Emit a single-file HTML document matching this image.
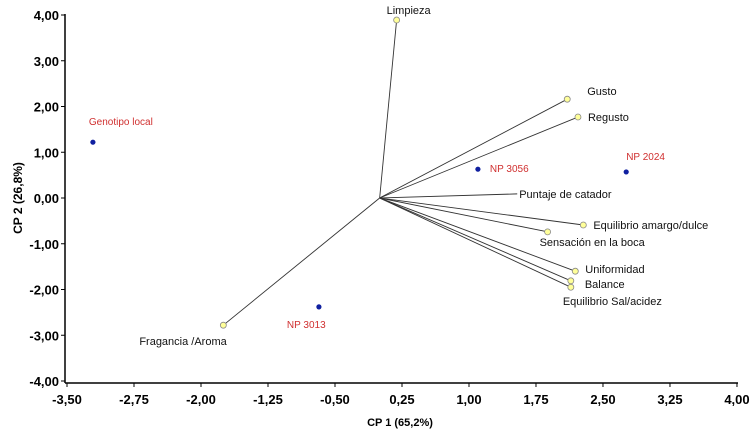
<!DOCTYPE html>
<html><head><meta charset="utf-8"><style>
body{margin:0;background:#fff;}
svg{display:block;font-family:"Liberation Sans",Arial,sans-serif;}
</style></head><body>
<svg id="chart" width="750" height="432"></svg>
<script>
const varNames=["Limpieza","Gusto","Regusto","Puntaje de catador","Equilibrio amargo/dulce","Sensación en la boca","Uniformidad","Balance","Equilibrio Sal/acidez","Fragancia /Aroma"];
const varX=[0.19,2.10,2.22,1.54,2.28,1.88,2.19,2.14,2.14,-1.75];
const varY=[3.89,2.16,1.77,0.09,-0.59,-0.74,-1.60,-1.81,-1.95,-2.78];
const varLabelDx=[-10,20,10,2,10,-8,10,14,-8,-84];
const varLabelDy=[-10,-8,0,0,0,10,-2,3,14,16];
const varMarker=[1,1,1,0,1,1,1,1,1,1];
const obsNames=["Genotipo local","NP 3056","NP 2024","NP 3013"];
const obsX=[-3.21,1.10,2.76,-0.68];
const obsY=[1.22,0.63,0.57,-2.38];
const obsLabelDx=[-4,12,0,-32];
const obsLabelDy=[-21,-1,-16,17];
const xTicks=[-3.5,-2.75,-2,-1.25,-0.5,0.25,1,1.75,2.5,3.25,4];
const yTicks=[4,3,2,1,0,-1,-2,-3,-4];
const fmt=v=>v.toFixed(2).replace('.',',');
const sx=v=>67+(v+3.5)*89.33;
const sy=v=>198-v*45.75;
const NS="http://www.w3.org/2000/svg";
const svg=document.getElementById('chart');
function mk(t,a,txt){const e=document.createElementNS(NS,t);for(const k in a)e.setAttribute(k,a[k]);if(txt!==undefined)e.textContent=txt;svg.appendChild(e);return e;}
let e;
e=mk('line',{x1:65,y1:14,x2:65,y2:383,stroke:'#000','stroke-width':1.5});


e=mk('line',{x1:65,y1:383,x2:738,y2:383,stroke:'#000','stroke-width':1.5});


xTicks.forEach(v=>{const x=sx(v);mk('line',{x1:x,y1:383,x2:x,y2:387,stroke:'#000'});
e=mk('text',{x:x,y:404,'text-anchor':'middle','font-size':13,'font-weight':'bold'},fmt(v));

});
yTicks.forEach(v=>{const y=sy(v);mk('line',{x1:61,y1:y,x2:65,y2:y,stroke:'#000'});
e=mk('text',{x:59,y:y+5,'text-anchor':'end','font-size':13,'font-weight':'bold'},fmt(v));

});
e=mk('text',{x:400,y:426,'text-anchor':'middle','font-size':11,'font-weight':'bold'},'CP 1 (65,2%)');


e=mk('text',{x:0,y:0,'text-anchor':'middle','font-size':12,'font-weight':'bold',transform:'translate(22,198) rotate(-90)'},'CP 2 (26,8%)');


const ox=sx(0),oy=sy(0);
varNames.forEach((n,i)=>{const x=sx(varX[i]),y=sy(varY[i]);
e=mk('line',{x1:ox,y1:oy,x2:x,y2:y,stroke:'#333','stroke-width':0.9});


if(varMarker[i]){e=mk('circle',{cx:x,cy:y,r:3,fill:'#ffff99',stroke:'#888','stroke-width':0.8});

}
e=mk('text',{x:x+varLabelDx[i],y:y+varLabelDy[i]+4,'font-size':11,fill:'#111'},n);

});
obsNames.forEach((n,i)=>{const x=sx(obsX[i]),y=sy(obsY[i]);
e=mk('circle',{cx:x,cy:y,r:2.6,fill:'#1020a0'});


e=mk('text',{x:x+obsLabelDx[i],y:y+obsLabelDy[i]+4,'font-size':10,fill:'#d03030'},n);

});
</script>
</body></html>
